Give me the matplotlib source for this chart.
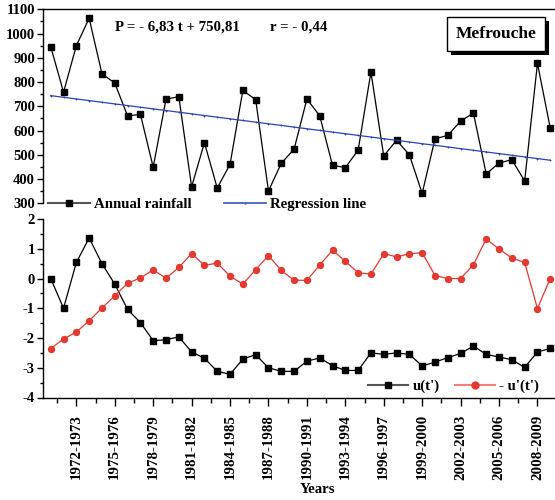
import numpy as np
import matplotlib
matplotlib.use("Agg")
import matplotlib.pyplot as plt
import matplotlib.patheffects as pe
from matplotlib.lines import Line2D
from matplotlib.ticker import MultipleLocator, FixedLocator

# Données - station Mefrouche
start_years = list(range(1970, 2010))
annual_rainfall = [946, 758, 950, 1063, 834, 796, 660, 667, 449, 729,
                   740, 368, 550, 363, 461, 766, 727, 351, 465, 523,
                   730, 661, 457, 447, 519, 841, 495, 560, 500, 341,
                   566, 580, 639, 672, 421, 466, 480, 392, 877, 610]
u_t = [0.00, -1.00, 0.54, 1.36, 0.50, -0.19, -1.04, -1.48, -2.09, -2.06,
       -1.96, -2.47, -2.68, -3.12, -3.22, -2.71, -2.56, -3.00, -3.12, -3.12,
       -2.78, -2.67, -2.93, -3.09, -3.09, -2.50, -2.55, -2.50, -2.55, -2.94,
       -2.81, -2.66, -2.52, -2.27, -2.55, -2.64, -2.73, -2.99, -2.47, -2.35]
minus_u_prime = [-2.36, -2.03, -1.80, -1.42, -0.99, -0.58, -0.16, 0.02, 0.29, 0.01,
                 0.37, 0.84, 0.44, 0.52, 0.08, -0.19, 0.30, 0.77, 0.27, -0.06,
                 -0.06, 0.45, 0.95, 0.58, 0.19, 0.15, 0.83, 0.73, 0.83, 0.87,
                 0.10, 0.00, 0.00, 0.46, 1.33, 0.99, 0.69, 0.54, -1.01, 0.00]
slope, intercept = -6.83, 750.81

x = np.arange(len(start_years))
t = x + 1
regression = intercept + slope * t
tick_labels = [f"{y}-{y + 1}" for y in start_years]

plt.rcParams['font.family'] = ['Liberation Serif', 'DejaVu Serif']
plt.rcParams['font.weight'] = 'bold'
plt.rcParams['axes.linewidth'] = 1.0
plt.rcParams['axes.unicode_minus'] = False

fig = plt.figure(figsize=(5.55, 5.0), dpi=100)
W, H = 555, 500

def px_axes(left, top, right, bottom):
    return fig.add_axes([left / W, 1 - bottom / H, (right - left) / W, (bottom - top) / H])

xlim = (-0.58, 39.37)

# --- panneau du haut : pluie annuelle ---
ax1 = px_axes(43.3, 9.3, 555, 203.3)
ax1.plot(x, annual_rainfall, color='black', lw=0.9, marker='s', ms=4.2, mfc='black', mec='black')
ax1.plot(x, regression, color='#2b44b0', lw=0.9, marker='+', ms=2, mew=0.6)
ax1.set_xlim(*xlim)
ax1.set_ylim(300, 1100)
ax1.yaxis.set_major_locator(MultipleLocator(100))
ax1.yaxis.set_minor_locator(MultipleLocator(50))
ax1.set_xticks([])
for s in ['right', 'bottom']:
    ax1.spines[s].set_visible(False)
ax1.tick_params(axis='y', which='major', length=4, width=1, labelsize=10.5, pad=2)
ax1.tick_params(axis='y', which='minor', length=2.5, width=1)

ax1.text(115 / W, 1 - 26.7 / H, "P = - 6,83 t + 750,81", transform=fig.transFigure,
         fontsize=10.7, fontweight='bold', va='center', ha='left')
ax1.text(270 / W, 1 - 26.7 / H, "r = - 0,44", transform=fig.transFigure,
         fontsize=10.7, fontweight='bold', va='center', ha='left')
box = ax1.text(496 / W, 1 - 34 / H, "Mefrouche", transform=fig.transFigure,
               fontsize=12.5, fontweight='bold', va='center', ha='center',
               bbox=dict(boxstyle='square,pad=0.5', fc='white', ec='black', lw=1))
box.get_bbox_patch().set_path_effects([pe.withSimplePatchShadow(offset=(3, -3), shadow_rgbFace='black', alpha=1.0)])

h1 = [Line2D([], [], color='#555555', lw=1.5, marker='s', ms=5, mfc='black', mec='black'),
      Line2D([], [], color='#4a62c0', lw=1.3, marker='+', ms=2)]
ax1.legend(h1, ['Annual rainfall', 'Regression line'], ncol=2, loc='lower left',
           bbox_to_anchor=(48 / W, 1 - 211 / H), bbox_transform=fig.transFigure,
           frameon=False, fontsize=10.7, handlelength=2.8, handletextpad=0.3,
           columnspacing=2.2, borderpad=0, borderaxespad=0)

# --- panneau du bas : test de Mann-Kendall séquentiel ---
ax2 = px_axes(43.3, 219, 555, 397.5)
ax2.plot(x, u_t, color='black', lw=0.9, marker='s', ms=4.2, mfc='black', mec='black')
ax2.plot(x, minus_u_prime, color='#e23a30', lw=0.9, marker='o', ms=4.3, mfc='#e23a30', mec='#e23a30')
ax2.set_xlim(*xlim)
ax2.set_ylim(-4, 2)
ax2.yaxis.set_major_locator(MultipleLocator(1))
ax2.yaxis.set_minor_locator(MultipleLocator(0.5))
ax2.xaxis.set_major_locator(FixedLocator(x[2::3]))
ax2.xaxis.set_minor_locator(FixedLocator(x[0::3] + 0.5))
ax2.set_xticklabels(tick_labels[2::3], rotation=90, fontsize=10.8, fontweight='bold')
for s in ['right', 'top']:
    ax2.spines[s].set_visible(False)
ax2.tick_params(axis='y', which='major', length=4, width=1, labelsize=10.5, pad=2)
ax2.tick_params(axis='y', which='minor', length=2.5, width=1)
ax2.tick_params(axis='x', which='major', length=6, width=1, pad=6)
ax2.tick_params(axis='x', which='minor', length=3.5, width=1)
ax2.set_xlabel('Years', fontsize=10.7, fontweight='bold')
ax2.xaxis.set_label_coords(0.536, -0.48)

h2 = [Line2D([], [], color='#555555', lw=1.5, marker='s', ms=5, mfc='black', mec='black'),
      Line2D([], [], color='#f08078', lw=1.5, marker='o', ms=5, mfc='#e23a30', mec='#e23a30')]
ax2.legend(h2, ["u(t')", "- u'(t')"], ncol=2, loc='lower left',
           bbox_to_anchor=(368 / W, 1 - 393 / H), bbox_transform=fig.transFigure,
           frameon=False, fontsize=10.7, handlelength=2.7, handletextpad=0.3,
           columnspacing=1.0, borderpad=0, borderaxespad=0)

fig.savefig('out.png', dpi=100)
